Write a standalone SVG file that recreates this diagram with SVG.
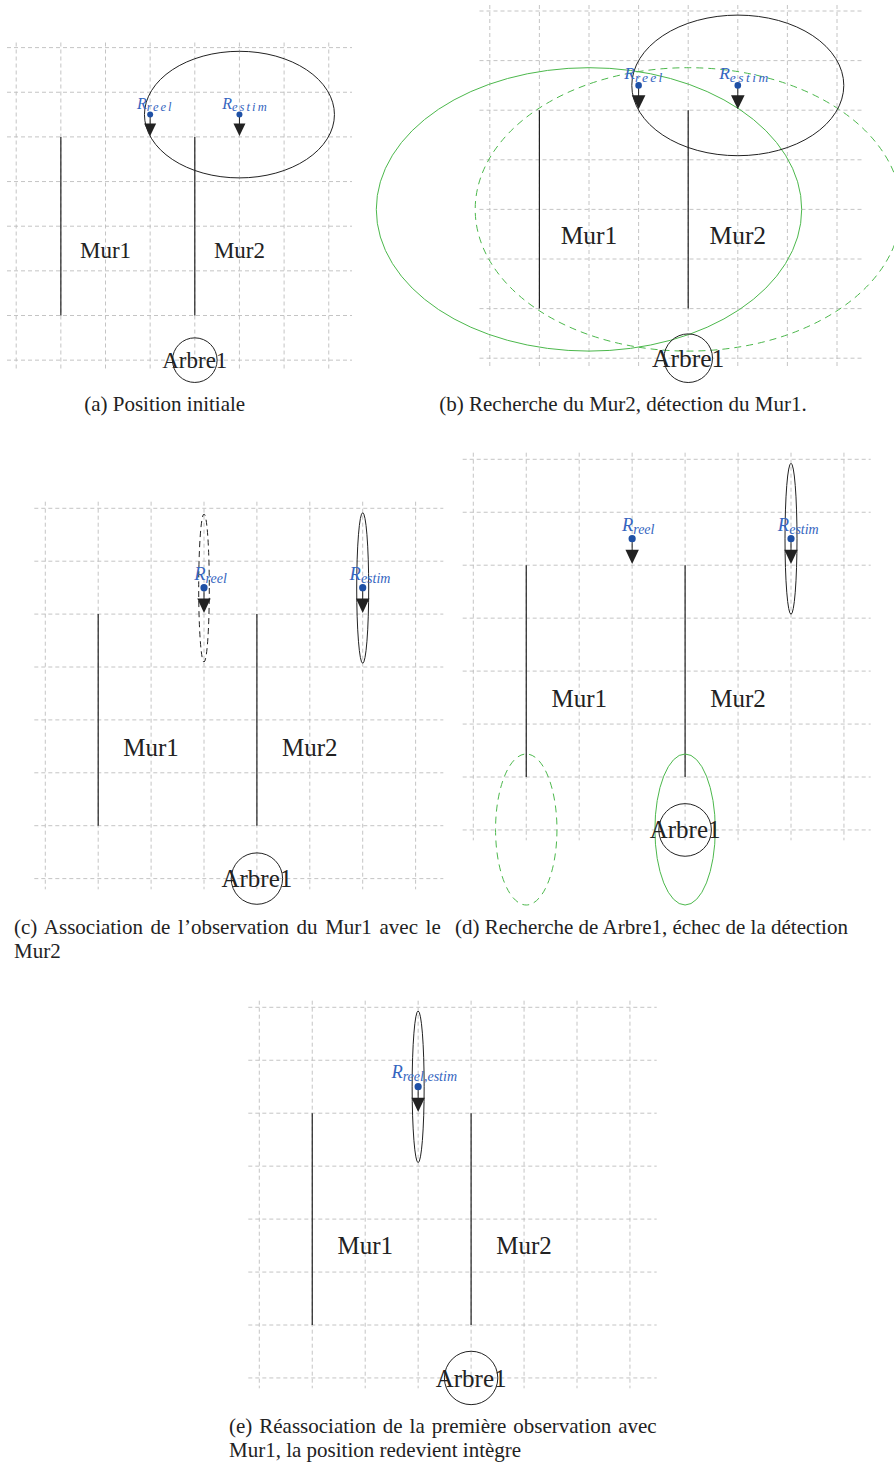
<svg xmlns="http://www.w3.org/2000/svg" width="894" height="1465" viewBox="0 0 894 1465">
<style>
.bg{fill:#fff}
.grid{fill:none;stroke:#bdbdbd;stroke-width:0.9;stroke-dasharray:4 3}
.wall{stroke:#222;stroke-width:1.2;fill:none}
.ell{fill:none;stroke:#222;stroke-width:1}
.ellg{fill:none;stroke:#4cb84c;stroke-width:1}
.dg{stroke-dasharray:7 5}
.dk{stroke-dasharray:6 4}
.lbl{font-family:"Liberation Serif",serif;fill:#222;text-anchor:middle}
.rdot{fill:#1f50a5}
.stem{stroke:#222;stroke-width:1}
.tri{fill:#222}
.rl{font-family:"Liberation Serif",serif;font-style:italic;fill:#3565c0;text-anchor:middle}
.cap{font-family:"Liberation Serif",serif;font-size:21px;fill:#222}
</style>
<rect class="bg" x="0" y="0" width="894" height="1465"/>

<!-- Panel (a) -->
<g id="panel-a">
<path class="grid" d="M16.2 42.5V369M60.85 42.5V369M105.5 42.5V369M150.15 42.5V369M194.8 42.5V369M239.45 42.5V369M284.1 42.5V369M328.75 42.5V369M7 47.6H352M7 92.25H352M7 136.9H352M7 181.55H352M7 226.2H352M7 270.85H352M7 315.5H352M7 360.15H352"/>
<g id="a-mur1"><line class="wall" x1="60.85" y1="136.9" x2="60.85" y2="315.5"/><text class="lbl" x="105.5" y="257.5" font-size="23" fill="#333">Mur1</text></g>
<g id="a-mur2"><line class="wall" x1="194.8" y1="136.9" x2="194.8" y2="315.5"/><text class="lbl" x="239.45" y="257.5" font-size="23" fill="#333">Mur2</text></g>
<ellipse id="a-cov" class="ell" cx="239.45" cy="114.6" rx="95" ry="63.3"/>
<g id="a-arbre1"><circle class="ell" cx="194.8" cy="360.15" r="22.3"/><text class="lbl" x="194.8" y="367.5" font-size="23">Arbre1</text></g>
<g id="a-rreel"><line class="stem" x1="150.15" y1="114.6" x2="150.15" y2="124"/><polygon class="tri" points="144.15,123.5 156.15,123.5 150.15,136"/><circle class="rdot" cx="150.15" cy="114.6" r="3"/><text class="rl" x="155.2" y="108.5" font-size="16">R<tspan font-size="12.5" letter-spacing="1.9" dy="2.5">reel</tspan></text></g>
<g id="a-restim"><line class="stem" x1="239.45" y1="114.6" x2="239.45" y2="124"/><polygon class="tri" points="233.45,123.5 245.45,123.5 239.45,136"/><circle class="rdot" cx="239.45" cy="114.6" r="3"/><text class="rl" x="245.5" y="108.5" font-size="16">R<tspan font-size="12.5" letter-spacing="2.1" dy="2.5">estim</tspan></text></g>
<text class="cap" x="164.7" y="411" text-anchor="middle">(a) Position initiale</text>
</g>

<!-- Panel (b) -->
<g id="panel-b">
<path class="grid" d="M489.8 5V368.5M539.4 5V368.5M589 5V368.5M638.6 5V368.5M688.2 5V368.5M737.8 5V368.5M787.4 5V368.5M837 5V368.5M479.5 11H862.5M479.5 60.6H862.5M479.5 110.2H862.5M479.5 159.8H862.5M479.5 209.4H862.5M479.5 259H862.5M479.5 308.6H862.5M479.5 358.2H862.5"/>
<g id="b-mur1"><line class="wall" x1="539.4" y1="110.2" x2="539.4" y2="308.6"/><text class="lbl" x="589" y="243.5" font-size="25.5" fill="#333">Mur1</text></g>
<g id="b-mur2"><line class="wall" x1="688.2" y1="110.2" x2="688.2" y2="308.6"/><text class="lbl" x="737.8" y="243.5" font-size="25.5" fill="#333">Mur2</text></g>
<ellipse id="b-obs" class="ellg" cx="589" cy="209.4" rx="212.7" ry="141.7"/>
<ellipse id="b-search" class="ellg dg" cx="688.2" cy="209.4" rx="213" ry="141.7"/>
<ellipse id="b-cov" class="ell" cx="737.8" cy="85.4" rx="106" ry="70.3"/>
<g id="b-arbre1"><circle class="ell" cx="688.2" cy="358.2" r="24.3"/><text class="lbl" x="688.2" y="366.7" font-size="25.5">Arbre1</text></g>
<g id="b-rreel"><line class="stem" x1="638.6" y1="85.4" x2="638.6" y2="96"/><polygon class="tri" points="631.8,95.2 645.4,95.2 638.6,109.2"/><circle class="rdot" cx="638.6" cy="85.4" r="3.3"/><text class="rl" x="644.4" y="79" font-size="17.5">R<tspan font-size="13.5" letter-spacing="2.3" dy="2.5">reel</tspan></text></g>
<g id="b-restim"><line class="stem" x1="737.8" y1="85.4" x2="737.8" y2="96"/><polygon class="tri" points="731,95.2 744.6,95.2 737.8,109.2"/><circle class="rdot" cx="737.8" cy="85.4" r="3.3"/><text class="rl" x="745" y="79" font-size="17.5">R<tspan font-size="13.5" letter-spacing="2.5" dy="2.5">estim</tspan></text></g>
<text class="cap" x="623" y="411" text-anchor="middle">(b) Recherche du Mur2, détection du Mur1.</text>
</g>

<!-- Panel (c) -->
<g id="panel-c">
<path class="grid" d="M45.3 501.7V889.3M98.2 501.7V889.3M151.1 501.7V889.3M204 501.7V889.3M256.9 501.7V889.3M309.8 501.7V889.3M362.7 501.7V889.3M415.6 501.7V889.3M34.3 508.3H443.3M34.3 561.2H443.3M34.3 614.1H443.3M34.3 667H443.3M34.3 719.9H443.3M34.3 772.8H443.3M34.3 825.7H443.3M34.3 878.6H443.3"/>
<g id="c-mur1"><line class="wall" x1="98.2" y1="614.1" x2="98.2" y2="825.7"/><text class="lbl" x="151.1" y="755.7" font-size="25">Mur1</text></g>
<g id="c-mur2"><line class="wall" x1="256.9" y1="614.1" x2="256.9" y2="825.7"/><text class="lbl" x="309.8" y="755.7" font-size="25">Mur2</text></g>
<ellipse id="c-cov-reel" class="ell dk" cx="204" cy="588" rx="5.3" ry="74"/>
<ellipse id="c-cov-estim" class="ell" cx="362.7" cy="588" rx="6" ry="75.3"/>
<g id="c-arbre1"><circle class="ell" cx="256.9" cy="878.6" r="25.7"/><text class="lbl" x="256.9" y="887.3" font-size="25">Arbre1</text></g>
<g id="c-rreel"><line class="stem" x1="204" y1="587.65" x2="204" y2="599"/><polygon class="tri" points="197.3,598.6 210.7,598.6 204,613"/><circle class="rdot" cx="204" cy="587.65" r="3.6"/><text class="rl" x="210.5" y="580" font-size="18.5">R<tspan font-size="14" dy="2.5">reel</tspan></text></g>
<g id="c-restim"><line class="stem" x1="362.7" y1="587.65" x2="362.7" y2="599"/><polygon class="tri" points="356,598.6 369.4,598.6 362.7,613"/><circle class="rdot" cx="362.7" cy="587.65" r="3.6"/><text class="rl" x="370" y="580" font-size="18.5">R<tspan font-size="14" dy="2.5">estim</tspan></text></g>
<text class="cap" x="14" y="933.5" word-spacing="2.4">(c) Association de l’observation du Mur1 avec le</text>
<text class="cap" x="14" y="957.5">Mur2</text>
</g>

<!-- Panel (d) -->
<g id="panel-d">
<path class="grid" d="M473.3 452.7V840.3M526.25 452.7V840.3M579.2 452.7V840.3M632.15 452.7V840.3M685.1 452.7V840.3M738.05 452.7V840.3M791 452.7V840.3M843.95 452.7V840.3M462.7 459.3H870.7M462.7 512.25H870.7M462.7 565.2H870.7M462.7 618.15H870.7M462.7 671.1H870.7M462.7 724.05H870.7M462.7 777H870.7M462.7 829.95H870.7"/>
<g id="d-mur1"><line class="wall" x1="526.25" y1="565.2" x2="526.25" y2="777"/><text class="lbl" x="579.2" y="706.7" font-size="25">Mur1</text></g>
<g id="d-mur2"><line class="wall" x1="685.1" y1="565.2" x2="685.1" y2="777"/><text class="lbl" x="738.05" y="706.7" font-size="25">Mur2</text></g>
<ellipse id="d-search-miss" class="ellg dg" cx="526.25" cy="829.5" rx="30.7" ry="75.5"/>
<ellipse id="d-search" class="ellg" cx="685.1" cy="829.5" rx="30.2" ry="75.5"/>
<ellipse id="d-cov" class="ell" cx="791" cy="538.8" rx="6" ry="75.5"/>
<g id="d-arbre1"><circle class="ell" cx="685.1" cy="829.95" r="26.3"/><text class="lbl" x="685.1" y="838.3" font-size="25">Arbre1</text></g>
<g id="d-rreel"><line class="stem" x1="632.15" y1="538.7" x2="632.15" y2="550"/><polygon class="tri" points="625.45,549.7 638.85,549.7 632.15,564.1"/><circle class="rdot" cx="632.15" cy="538.7" r="3.6"/><text class="rl" x="638.2" y="531" font-size="18.5">R<tspan font-size="14" dy="2.5">reel</tspan></text></g>
<g id="d-restim"><line class="stem" x1="791" y1="538.7" x2="791" y2="550"/><polygon class="tri" points="784.3,549.7 797.7,549.7 791,564.1"/><circle class="rdot" cx="791" cy="538.7" r="3.6"/><text class="rl" x="798.3" y="531" font-size="18.5">R<tspan font-size="14" dy="2.5">estim</tspan></text></g>
<text class="cap" x="455" y="933.5">(d) Recherche de Arbre1, échec de la détection</text>
</g>

<!-- Panel (e) -->
<g id="panel-e">
<path class="grid" d="M259.3 1000.7V1388.3M312.25 1000.7V1388.3M365.2 1000.7V1388.3M418.15 1000.7V1388.3M471.1 1000.7V1388.3M524.05 1000.7V1388.3M577 1000.7V1388.3M629.95 1000.7V1388.3M248.3 1007.3H656.7M248.3 1060.25H656.7M248.3 1113.2H656.7M248.3 1166.15H656.7M248.3 1219.1H656.7M248.3 1272.05H656.7M248.3 1325H656.7M248.3 1377.95H656.7"/>
<g id="e-mur1"><line class="wall" x1="312.25" y1="1113.2" x2="312.25" y2="1325"/><text class="lbl" x="365.2" y="1254.3" font-size="25">Mur1</text></g>
<g id="e-mur2"><line class="wall" x1="471.1" y1="1113.2" x2="471.1" y2="1325"/><text class="lbl" x="524.05" y="1254.3" font-size="25">Mur2</text></g>
<ellipse id="e-cov" class="ell" cx="418.15" cy="1086.8" rx="6" ry="75.8"/>
<g id="e-arbre1"><circle class="ell" cx="471.1" cy="1377.95" r="26.7"/><text class="lbl" x="471.1" y="1386.7" font-size="25">Arbre1</text></g>
<g id="e-robot"><line class="stem" x1="418.15" y1="1086.7" x2="418.15" y2="1098"/><polygon class="tri" points="411.45,1097.7 424.85,1097.7 418.15,1112.1"/><circle class="rdot" cx="418.15" cy="1086.7" r="3.6"/><text class="rl" x="424.2" y="1078" font-size="18.5">R<tspan font-size="14" dy="2.5">reel,estim</tspan></text></g>
<text class="cap" x="229" y="1433" word-spacing="1.7">(e) Réassociation de la première observation avec</text>
<text class="cap" x="229" y="1456.5">Mur1, la position redevient intègre</text>
</g>
<g id="connectors"/>
</svg>
